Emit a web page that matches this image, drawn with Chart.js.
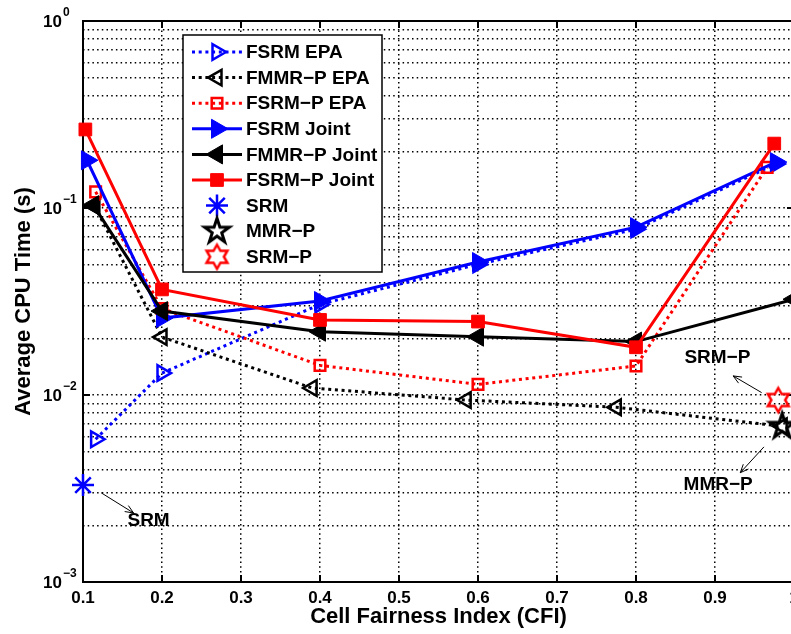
<!DOCTYPE html>
<html>
<head>
<meta charset="utf-8">
<title>Average CPU Time vs CFI</title>
<script src="https://cdn.jsdelivr.net/npm/chart.js@4.4.0/dist/chart.umd.min.js"></script>
<style>
  html, body { margin: 0; padding: 0; background: #fff; overflow: hidden; }
</style>
</head>
<body>
<canvas id="cpuChart" width="810" height="634"></canvas>
<script>
// --- values (x = CFI, y = CPU time in s) ---
const fsrmEpaX    = [0.116, 0.2, 0.4, 0.6, 0.8, 0.977];
const fsrmEpaY    = [0.0058, 0.0131, 0.0305, 0.050, 0.077, 0.172];
const fmmrpEpaX   = [0.115, 0.2, 0.39, 0.585, 0.775, 0.985];
const fmmrpEpaY   = [0.102, 0.0204, 0.0109, 0.0094, 0.0086, 0.0068];
const fsrmpEpaX   = [0.116, 0.2, 0.4, 0.6, 0.8, 0.966];
const fsrmpEpaY   = [0.122, 0.029, 0.0144, 0.0114, 0.0143, 0.165];
const fsrmJointX  = [0.105, 0.2, 0.4, 0.6, 0.8, 0.977];
const fsrmJointY  = [0.180, 0.0258, 0.0318, 0.0514, 0.079, 0.176];
const fmmrpJointX = [0.113, 0.2, 0.4, 0.6, 0.8, 1.0];
const fmmrpJointY = [0.1036, 0.0281, 0.0218, 0.0205, 0.0193, 0.0325];
const fsrmpJointX = [0.103, 0.2, 0.4, 0.6, 0.8, 0.975];
const fsrmpJointY = [0.263, 0.0367, 0.0252, 0.0247, 0.018, 0.221];
const srmX = [0.1],   srmY = [0.0033];
const mmrpX = [0.985], mmrpY = [0.0068];
const srmpX = [0.98],  srmpY = [0.0094];

const xTicks = [0.1, 0.2, 0.3, 0.4, 0.5, 0.6, 0.7, 0.8, 0.9, 1.0];
const yDecades = [0.001, 0.01, 0.1, 1];
const yMinorSteps = [2, 3, 4, 5, 6, 7, 8, 9];

// text annotations with arrows (data coords)
const noteLabels = ['SRM', 'SRM\u2212P', 'MMR\u2212P'];
const noteTextX  = [0.183, 0.903, 0.904];
const noteTextY  = [0.00212, 0.0158, 0.00331];
const noteFromX  = [0.123, 0.959, 0.962];
const noteFromY  = [0.0030, 0.0103, 0.00528];
const noteToX    = [0.164, 0.923, 0.932];
const noteToY    = [0.00234, 0.01265, 0.00384];

const FONT = '"Liberation Sans", Arial, Helvetica, sans-serif';
const pts = (xs, ys) => xs.map((x, i) => ({ x: x, y: ys[i] }));

// outline star markers (MATLAB 'p' and 'h')
function starMarker(n, rOut, rIn, color, lw) {
  const size = Math.ceil(2 * (rOut + lw + 2));
  const c = document.createElement('canvas');
  c.width = size; c.height = size;
  const g = c.getContext('2d');
  g.strokeStyle = color; g.lineWidth = lw; g.lineJoin = 'miter';
  g.beginPath();
  for (let i = 0; i < 2 * n; i++) {
    const r = i % 2 === 0 ? rOut : rIn;
    const a = -Math.PI / 2 + i * Math.PI / n;
    const px = size / 2 + r * Math.cos(a), py = size / 2 + r * Math.sin(a);
    if (i === 0) g.moveTo(px, py); else g.lineTo(px, py);
  }
  g.closePath();
  g.stroke();
  return c;
}
const pentagram = starMarker(5, 13, 13 * 0.382, '#000', 3);
const hexagram = starMarker(6, 12, 12 * 0.577, '#ff0000', 2.5);

const dotted = [3, 3.7];

const datasets = [
  { label: 'FSRM EPA', data: pts(fsrmEpaX, fsrmEpaY), borderColor: '#0000ff', borderDash: dotted,
    pointStyle: 'triangle', pointRotation: 90, pointRadius: 9, pointBorderWidth: 2.5,
    pointBorderColor: '#0000ff', pointBackgroundColor: 'rgba(0,0,0,0)' },
  { label: 'FMMR\u2212P EPA', data: pts(fmmrpEpaX, fmmrpEpaY), borderColor: '#000', borderDash: dotted,
    pointStyle: 'triangle', pointRotation: -90, pointRadius: 9, pointBorderWidth: 2.5,
    pointBorderColor: '#000', pointBackgroundColor: 'rgba(0,0,0,0)' },
  { label: 'FSRM\u2212P EPA', data: pts(fsrmpEpaX, fsrmpEpaY), borderColor: '#ff0000', borderDash: dotted,
    pointStyle: 'rect', pointRadius: 7.5, pointBorderWidth: 2.5,
    pointBorderColor: '#ff0000', pointBackgroundColor: 'rgba(0,0,0,0)' },
  { label: 'FSRM Joint', data: pts(fsrmJointX, fsrmJointY), borderColor: '#0000ff',
    pointStyle: 'triangle', pointRotation: 90, pointRadius: 11, pointBorderWidth: 1,
    pointBorderColor: '#0000ff', pointBackgroundColor: '#0000ff' },
  { label: 'FMMR\u2212P Joint', data: pts(fmmrpJointX, fmmrpJointY), borderColor: '#000',
    pointStyle: 'triangle', pointRotation: -90, pointRadius: 11, pointBorderWidth: 1,
    pointBorderColor: '#000', pointBackgroundColor: '#000' },
  { label: 'FSRM\u2212P Joint', data: pts(fsrmpJointX, fsrmpJointY), borderColor: '#ff0000',
    pointStyle: 'rect', pointRadius: 9, pointBorderWidth: 1,
    pointBorderColor: '#ff0000', pointBackgroundColor: '#ff0000' },
  { label: 'SRM', data: pts(srmX, srmY), showLine: false, borderColor: '#0000ff',
    pointStyle: 'star', pointRadius: 11, pointBorderWidth: 2.5,
    pointBorderColor: '#0000ff', pointBackgroundColor: '#0000ff' },
  { label: 'MMR\u2212P', data: pts(mmrpX, mmrpY), showLine: false, borderColor: '#000',
    pointStyle: pentagram, pointRadius: 13, pointBorderWidth: 0,
    pointBorderColor: '#000', pointBackgroundColor: '#000' },
  { label: 'SRM\u2212P', data: pts(srmpX, srmpY), showLine: false, borderColor: '#ff0000',
    pointStyle: hexagram, pointRadius: 12, pointBorderWidth: 0,
    pointBorderColor: '#ff0000', pointBackgroundColor: '#ff0000' }
];
datasets.forEach((ds, i) => {
  ds.borderWidth = 3;
  ds.tension = 0;
  ds.clip = false;
  ds.order = 20 - i;   // later series drawn on top, as in MATLAB
});

// axes box, inward ticks, y labels with exponents
const axesBox = {
  id: 'axesBox',
  beforeDatasetsDraw(chart) {
    const ctx = chart.ctx, a = chart.chartArea;
    const xs = chart.scales.x, ys = chart.scales.y;
    ctx.save();
    ctx.strokeStyle = '#000';
    ctx.lineWidth = 2;
    ctx.strokeRect(a.left, a.top, a.right - a.left, a.bottom - a.top);
    ctx.beginPath();
    xTicks.forEach(v => {
      const px = xs.getPixelForValue(v);
      ctx.moveTo(px, a.bottom); ctx.lineTo(px, a.bottom - 7);
      ctx.moveTo(px, a.top); ctx.lineTo(px, a.top + 7);
    });
    yDecades.forEach(v => {
      const py = ys.getPixelForValue(v);
      ctx.moveTo(a.left, py); ctx.lineTo(a.left + 7, py);
      ctx.moveTo(a.right, py); ctx.lineTo(a.right - 7, py);
    });
    ctx.stroke();

    ctx.fillStyle = '#000';
    ctx.textBaseline = 'middle';
    yDecades.forEach(v => {
      const py = ys.getPixelForValue(v);
      const exp = Math.round(Math.log10(v));
      const baseRight = a.left - 21;
      ctx.font = 'bold 17px ' + FONT;
      ctx.textAlign = 'right';
      ctx.fillText('10', baseRight, py + 1);
      ctx.font = 'bold 12px ' + FONT;
      ctx.textAlign = 'left';
      ctx.fillText(exp === 0 ? '0' : '\u2212' + Math.abs(exp), baseRight + 1, py - 8);
    });
    ctx.restore();
  }
};

const notes = {
  id: 'notes',
  afterDatasetsDraw(chart) {
    const ctx = chart.ctx, xs = chart.scales.x, ys = chart.scales.y;
    ctx.save();
    ctx.strokeStyle = '#000';
    ctx.fillStyle = '#000';
    ctx.lineWidth = 1;
    noteLabels.forEach((t, i) => {
      const x1 = xs.getPixelForValue(noteFromX[i]), y1 = ys.getPixelForValue(noteFromY[i]);
      const x2 = xs.getPixelForValue(noteToX[i]), y2 = ys.getPixelForValue(noteToY[i]);
      const ang = Math.atan2(y2 - y1, x2 - x1);
      ctx.beginPath();
      ctx.moveTo(x1, y1); ctx.lineTo(x2, y2);
      ctx.moveTo(x2 - 9 * Math.cos(ang - 0.4), y2 - 9 * Math.sin(ang - 0.4));
      ctx.lineTo(x2, y2);
      ctx.lineTo(x2 - 9 * Math.cos(ang + 0.4), y2 - 9 * Math.sin(ang + 0.4));
      ctx.stroke();
      ctx.font = 'bold 19px ' + FONT;
      ctx.textAlign = 'center';
      ctx.textBaseline = 'middle';
      ctx.fillText(t, xs.getPixelForValue(noteTextX[i]), ys.getPixelForValue(noteTextY[i]));
    });
    ctx.restore();
  }
};

const boxLegend = {
  id: 'boxLegend',
  afterDraw(chart) {
    const ctx = chart.ctx, a = chart.chartArea;
    const bx = a.left + 100, by = a.top + 14, bw = 199, bh = 237;
    ctx.save();
    ctx.fillStyle = '#fff';
    ctx.fillRect(bx, by, bw, bh);
    ctx.strokeStyle = '#000';
    ctx.lineWidth = 1.5;
    ctx.strokeRect(bx, by, bw, bh);
    chart.data.datasets.forEach((ds, i) => {
      const cy = by + 17 + i * 25.6;
      if (ds.showLine !== false) {
        ctx.beginPath();
        ctx.setLineDash(ds.borderDash || []);
        ctx.lineWidth = ds.borderWidth;
        ctx.strokeStyle = ds.borderColor;
        ctx.moveTo(bx + 9, cy); ctx.lineTo(bx + 59, cy);
        ctx.stroke();
        ctx.setLineDash([]);
      }
      ctx.fillStyle = ds.pointBackgroundColor;
      ctx.strokeStyle = ds.pointBorderColor;
      ctx.lineWidth = ds.pointBorderWidth;
      Chart.helpers.drawPoint(ctx, {
        pointStyle: ds.pointStyle, radius: ds.pointRadius,
        rotation: ds.pointRotation || 0, borderWidth: ds.pointBorderWidth
      }, bx + 34, cy);
      ctx.fillStyle = '#000';
      ctx.font = 'bold 19px ' + FONT;
      ctx.textAlign = 'left';
      ctx.textBaseline = 'middle';
      ctx.fillText(ds.label, bx + 63, cy + 1);
    });
    ctx.restore();
  }
};

const gridDash = [1.5, 3.2];

new Chart(document.getElementById('cpuChart'), {
  type: 'line',
  data: { datasets: datasets },
  options: {
    responsive: false,
    animation: false,
    devicePixelRatio: 1,
    layout: { padding: { left: 0, right: 16, top: 21, bottom: 0 } },
    plugins: { legend: { display: false }, tooltip: { enabled: false } },
    scales: {
      x: {
        type: 'linear', min: 0.1, max: 1.0,
        afterBuildTicks: s => { s.ticks = xTicks.map(v => ({ value: v })); },
        afterFit: s => { s.height = 52; },
        ticks: {
          autoSkip: false, maxRotation: 0, padding: 6, color: '#000',
          font: { family: FONT, size: 17, weight: 'bold' },
          callback: v => (v === 1 ? '1' : v.toFixed(1))
        },
        grid: { color: '#000', lineWidth: 1.5, drawTicks: false },
        border: { display: false, dash: gridDash },
        title: {
          display: true, text: 'Cell Fairness Index (CFI)', color: '#000',
          font: { family: FONT, size: 22, weight: 'bold' }, padding: { top: 0, bottom: 4 }
        }
      },
      y: {
        type: 'logarithmic', min: 0.001, max: 1,
        afterBuildTicks: s => {
          const t = [];
          yDecades.forEach(d => {
            t.push({ value: d, major: true });
            if (d < 1) yMinorSteps.forEach(m => t.push({ value: d * m }));
          });
          s.ticks = t;
        },
        afterFit: s => { s.width = 83; },
        ticks: { display: false },
        grid: { color: '#000', lineWidth: 1.5, drawTicks: false },
        border: { display: false, dash: gridDash },
        title: {
          display: true, text: 'Average CPU Time (s)', color: '#000',
          font: { family: FONT, size: 22, weight: 'bold' }, padding: { top: 11, bottom: 0 }
        }
      }
    }
  },
  plugins: [axesBox, notes, boxLegend]
});
</script>
</body>
</html>
